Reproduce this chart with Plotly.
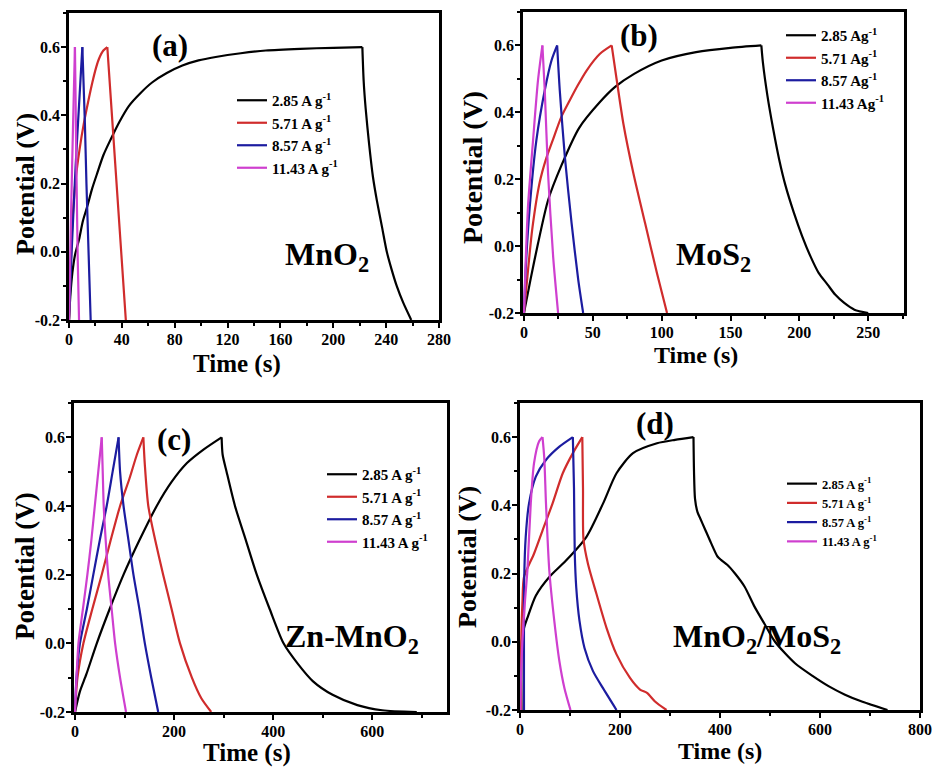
import plotly.graph_objects as go

# ---------------- data ----------------
labels_ag = ["2.85 A g<sup>-1</sup>", "5.71 A g<sup>-1</sup>", "8.57 A g<sup>-1</sup>", "11.43 A g<sup>-1</sup>"]
labels_b = ["2.85 Ag<sup>-1</sup>", "5.71 Ag<sup>-1</sup>", "8.57 Ag<sup>-1</sup>", "11.43 Ag<sup>-1</sup>"]
colors = ["#000000", "#d02c2c", "#1c1ca0", "#cf3fcf"]

# (a) MnO2
a_t_285 = [0, 1, 2.6, 4.5, 7.6, 10.5, 13.9, 17.5, 21.5, 26, 31.6, 38, 45.4, 54, 63.1, 74, 85.8, 98, 111, 130, 149, 175, 200, 222,
           223, 224.5, 227, 230, 233, 237, 240.5, 244, 248, 253, 259]
a_v_285 = [-0.2, -0.13, -0.06, -0.01, 0.036, 0.09, 0.134, 0.185, 0.232, 0.283, 0.33, 0.38, 0.428, 0.465, 0.497, 0.524, 0.546, 0.561, 0.571, 0.582, 0.59, 0.595, 0.598, 0.6,
           0.5, 0.42, 0.32, 0.22, 0.15, 0.07, 0.0, -0.05, -0.1, -0.15, -0.2]
a_t_571 = [0, 1.2, 2.5, 5, 8, 11.4, 14.5, 17.7, 20.5, 22.7, 26, 29, 36, 43]
a_v_571 = [-0.2, -0.05, 0.08, 0.21, 0.3, 0.38, 0.44, 0.497, 0.54, 0.566, 0.59, 0.6, 0.2, -0.2]
a_t_857 = [0, 2, 5, 7.6, 10.1, 12, 13.2, 16.4]
a_v_857 = [-0.2, 0.0, 0.25, 0.43, 0.6, 0.38, 0.2, -0.2]
a_t_1143 = [0, 1.5, 3, 4.5, 5.6, 6.6, 7.6]
a_v_1143 = [-0.2, 0.1, 0.36, 0.6, 0.25, -0.02, -0.2]

# (b) MoS2
b_t_285 = [0, 5, 10, 17.5, 27.3, 40, 55, 66.2, 80, 100, 125, 150, 172.4,
           173.5, 176.8, 181, 185.3, 190, 196, 202, 208, 214, 220.5, 226, 232.6, 240, 250]
b_v_285 = [-0.2, -0.095, 0.004, 0.137, 0.242, 0.353, 0.43, 0.476, 0.515, 0.555, 0.58, 0.593, 0.6,
           0.55, 0.45, 0.35, 0.26, 0.18, 0.1, 0.03, -0.03, -0.08, -0.115, -0.145, -0.17, -0.19, -0.2]
b_t_571 = [0, 3, 6, 11.4, 16, 21.2, 27, 33.3, 39, 45.5, 55.2, 63.7,
           67.4, 72.2, 79.5, 88, 96.6, 103.9]
b_v_571 = [-0.2, -0.07, 0.05, 0.19, 0.26, 0.32, 0.385, 0.436, 0.48, 0.525, 0.575, 0.6,
           0.496, 0.366, 0.217, 0.068, -0.081, -0.2]
b_t_857 = [0, 1.5, 4.2, 9, 15.1, 20, 24.1, 26, 29.7, 34.6, 39.4, 43]
b_v_857 = [-0.2, -0.05, 0.117, 0.316, 0.466, 0.555, 0.6, 0.466, 0.267, 0.068, -0.1, -0.2]
b_t_1143 = [0, 1.2, 2.9, 6.6, 10.2, 13.4, 15.1, 17.5, 21.2, 24.8]
b_v_1143 = [-0.2, -0.05, 0.117, 0.316, 0.496, 0.6, 0.466, 0.217, -0.032, -0.2]

# (c) Zn-MnO2
c_t_285 = [0, 10, 23, 44, 70, 98, 130, 165, 195, 226, 260, 296,
           298, 306, 323, 345, 367, 393, 421, 450, 480, 520, 570, 620, 690]
c_v_285 = [-0.2, -0.14, -0.09, 0.0, 0.1, 0.2, 0.3, 0.4, 0.47, 0.525, 0.565, 0.6,
           0.55, 0.5, 0.4, 0.3, 0.2, 0.1, 0.0, -0.06, -0.11, -0.15, -0.18, -0.195, -0.2]
c_t_571 = [0, 5, 17, 35, 54, 72, 91, 110, 125, 138, 141, 148, 162, 178, 195, 212, 236, 255, 275]
c_v_571 = [-0.2, -0.1, 0.0, 0.1, 0.2, 0.3, 0.4, 0.48, 0.55, 0.6, 0.52, 0.4, 0.3, 0.2, 0.1, 0.0, -0.1, -0.16, -0.2]
c_t_857 = [0, 3, 10, 24, 37, 50, 64, 76, 88, 91, 98, 108, 118, 130, 141, 154, 168]
c_v_857 = [-0.2, -0.1, 0.0, 0.1, 0.2, 0.3, 0.4, 0.5, 0.6, 0.5, 0.4, 0.3, 0.2, 0.1, 0.0, -0.1, -0.2]
c_t_1143 = [0, 3, 7, 16, 25, 33, 40, 47, 54, 56, 58, 62, 67, 74, 81, 91, 103]
c_v_1143 = [-0.2, -0.1, 0.0, 0.1, 0.2, 0.3, 0.4, 0.5, 0.6, 0.5, 0.4, 0.3, 0.2, 0.1, 0.0, -0.1, -0.2]

# (d) MnO2/MoS2
d_t_285 = [3, 3.5, 8, 14.8, 31.6, 58.6, 92, 132.6, 166, 193, 226, 274, 310, 347,
           348, 350, 355, 361, 370, 382, 395, 402, 415, 430, 449, 469, 490, 510, 550, 585, 617, 650, 685, 735]
d_v_285 = [-0.2, 0.0, 0.04, 0.07, 0.135, 0.19, 0.238, 0.307, 0.405, 0.494, 0.553, 0.582, 0.592, 0.6,
           0.5, 0.42, 0.38, 0.36, 0.33, 0.29, 0.25, 0.24, 0.225, 0.2, 0.162, 0.103, 0.05, 0.0, -0.063, -0.1, -0.13, -0.155, -0.176, -0.2]
d_t_571 = [2, 2.5, 5, 8, 28, 45, 65, 85.5, 105.7, 124.6, 126, 127, 136, 153, 173, 193, 220, 240, 254, 270, 293]
d_v_571 = [-0.2, 0.0, 0.12, 0.19, 0.258, 0.326, 0.405, 0.494, 0.553, 0.6, 0.45, 0.3, 0.228, 0.14, 0.041, -0.037, -0.106, -0.14, -0.15, -0.175, -0.2]
d_t_857 = [8, 8.5, 11.4, 18, 31.6, 51.8, 78.8, 105.7, 108, 109.5, 112.5, 119, 129, 146, 166, 193]
d_v_857 = [-0.2, 0.189, 0.307, 0.405, 0.484, 0.533, 0.572, 0.6, 0.45, 0.26, 0.159, 0.061, -0.018, -0.086, -0.136, -0.2]
d_t_1143 = [1, 2, 4.7, 10, 14.8, 21.5, 28, 38, 45, 48.5, 52, 58.6, 68.7, 78.8, 88.9, 101]
d_v_1143 = [-0.2, -0.1, 0.0, 0.12, 0.209, 0.405, 0.523, 0.587, 0.6, 0.54, 0.405, 0.209, 0.06, -0.057, -0.136, -0.2]

panels = [
    dict(key="a", series=[(a_t_285, a_v_285), (a_t_571, a_v_571), (a_t_857, a_v_857), (a_t_1143, a_v_1143)],
         labels=labels_ag),
    dict(key="b", series=[(b_t_285, b_v_285), (b_t_571, b_v_571), (b_t_857, b_v_857), (b_t_1143, b_v_1143)],
         labels=labels_b),
    dict(key="c", series=[(c_t_285, c_v_285), (c_t_571, c_v_571), (c_t_857, c_v_857), (c_t_1143, c_v_1143)],
         labels=labels_ag),
    dict(key="d", series=[(d_t_285, d_v_285), (d_t_571, d_v_571), (d_t_857, d_v_857), (d_t_1143, d_v_1143)],
         labels=labels_ag),
]

# ---------------- layout geometry (pixels) ----------------
W, H = 933, 767
frames = {  # left, right, top, bottom in pixels
    "a": (69, 439, 13, 320),
    "b": (523, 904, 12, 313),
    "c": (74, 447, 403, 712),
    "d": (520, 920, 403, 710),
}
xranges = {"a": [0, 280], "b": [-0.7, 276], "c": [-2, 751], "d": [0, 800]}
xdtick = {"a": 40, "b": 50, "c": 200, "d": 200}
legend_pos = {  # left, top px, font size
    "a": (232, 84, 15), "b": (781, 19, 15), "c": (322, 458, 15), "d": (782, 469, 12.5),
}
# axis titles: (x-title cx, cy, size), (y-title cx, cy, size)
axis_titles = {
    "a": ((237, 364, 25), (26, 184, 26)),
    "b": ((696, 355, 24), (472, 168, 28)),
    "c": ((247, 753, 25), (25, 566, 27)),
    "d": ((720, 751, 24), (467, 557, 26)),
}
FONT = "Liberation Serif"

fig = go.Figure()
for i, p in enumerate(panels):
    n = "" if i == 0 else str(i + 1)
    leg = "legend" if i == 0 else "legend" + str(i + 1)
    for j, (t, v) in enumerate(p["series"]):
        k = v.index(max(v))
        for part, (tt, vv) in enumerate([(t[:k + 1], v[:k + 1]), (t[k:], v[k:])]):
            fig.add_trace(go.Scatter(
                x=tt, y=vv, mode="lines", name=p["labels"][j],
                legendgroup=p["key"] + str(j), showlegend=(part == 0),
                line=dict(color=colors[j], width=2.2, shape="spline", smoothing=0.7),
                xaxis="x" + n, yaxis="y" + n, legend=leg))

layout = dict(width=W, height=H, margin=dict(l=0, r=0, t=0, b=0),
              paper_bgcolor="white", plot_bgcolor="white", font=dict(family=FONT, color="black"))
annotations = []
for i, p in enumerate(panels):
    k = p["key"]
    n = "" if i == 0 else str(i + 1)
    L, R, T, B = frames[k]
    common = dict(showline=True, linecolor="black", linewidth=2.5, mirror=True, showgrid=False, zeroline=False,
                  ticks="outside", ticklen=5, tickwidth=2, tickcolor="black", ticklabelstandoff=-2,
                  tickfont=dict(family=FONT, size=16, color="black", weight="bold"),
                  automargin=False)
    layout["xaxis" + n] = dict(common, domain=[L / W, R / W], range=xranges[k], anchor="y" + n,
                               dtick=xdtick[k], tick0=0,
                               minor=dict(ticks="outside", ticklen=3, tickwidth=1.5, tickcolor="black", dtick=xdtick[k] / 2, tick0=0))
    layout["yaxis" + n] = dict(common, domain=[1 - B / H, 1 - T / H], range=[-0.2, 0.7], anchor="x" + n,
                               tickvals=[-0.2, 0.0, 0.2, 0.4, 0.6], ticktext=["-0.2", "0.0", "0.2", "0.4", "0.6"],
                               minor=dict(ticks="outside", ticklen=3, tickwidth=1.5, tickcolor="black", tickvals=[-0.1, 0.1, 0.3, 0.5, 0.7]))
    lx, ly, fs = legend_pos[k]
    leg = "legend" if i == 0 else "legend" + str(i + 1)
    layout[leg] = dict(x=lx / W, y=1 - ly / H, xanchor="left", yanchor="top", bgcolor="rgba(0,0,0,0)",
                       font=dict(family=FONT, size=fs, color="black", weight="bold"), tracegroupgap=0,
                       itemwidth=30)
    (xcx, xcy, xs), (ycx, ycy, ys) = axis_titles[k]
    annotations.append(dict(text="Time (s)", x=xcx / W, y=1 - xcy / H, xref="paper", yref="paper", showarrow=False,
                            xanchor="center", yanchor="middle",
                            font=dict(family=FONT, size=xs, color="black", weight="bold")))
    annotations.append(dict(text="Potential (V)", x=ycx / W, y=1 - ycy / H, xref="paper", yref="paper", showarrow=False,
                            xanchor="center", yanchor="middle", textangle=-90,
                            font=dict(family=FONT, size=ys, color="black", weight="bold")))

texts = [
    ("(a)", 170, 46, 31), ("MnO<sub>2</sub>", 327, 257, 32),
    ("(b)", 639, 36, 31), ("MoS<sub>2</sub>", 713, 256, 32),
    ("(c)", 174, 439, 31), ("Zn-MnO<sub>2</sub>", 352, 638, 32),
    ("(d)", 655, 423, 31), ("MnO<sub>2</sub>/MoS<sub>2</sub>", 757, 638, 32),
]
for txt, x, y, s in texts:
    annotations.append(dict(text=txt, x=x / W, y=1 - y / H, xref="paper", yref="paper", showarrow=False,
                            xanchor="center", yanchor="middle",
                            font=dict(family=FONT, size=s, color="black", weight="bold")))
layout["annotations"] = annotations
fig.update_layout(**layout)
fig.write_html("out.html")
